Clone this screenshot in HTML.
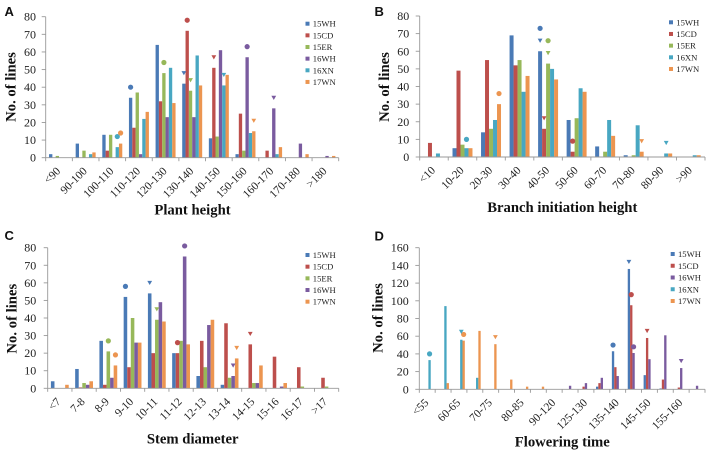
<!DOCTYPE html>
<html>
<head>
<meta charset="utf-8">
<title>Trait distributions</title>
<style>
html,body{margin:0;padding:0;background:#fff;}
#figure{display:block;width:708px;height:452px;font-family:"Liberation Serif",serif;filter:blur(0.35px);}
.panel-letter{font-family:"Liberation Sans",sans-serif;font-weight:bold;font-size:13px;fill:#111;}
.ytick{font-size:12px;fill:#222;text-anchor:end;}
.xtick{font-size:11.4px;fill:#222;text-anchor:end;}
.axis-title{font-size:14.7px;font-weight:bold;fill:#111;text-anchor:middle;}
.legend-text{font-size:8.6px;fill:#222;}
</style>
</head>
<body>
<svg id="figure" xmlns="http://www.w3.org/2000/svg" width="708" height="452" viewBox="0 0 708 452"></svg>
<script>
// ---------- Colours ----------
const seriesColors = {'15WH':'#4a7ab6','15CD':'#bd4f4c','15ER':'#97b85a','16WH':'#7a5b9f','16XN':'#48a7c2','17WN':'#ec9550'};

// ---------- Panel A ----------
const categoriesA = ['<90','90-100','100-110','110-120','120-130','130-140','140-150','150-160','160-170','170-180','>180'];
const ticksA = [0,10,20,30,40,50,60,70,80];
const a15WH = [2,8,13,34,64,42,11,2,0,0,0];
const a15CD = [0,0,4,17,32,72,51,25,4,0,0];
const a15ER = [1,4,13,37,48,38,12,4,0,0,0];
const a16WH = [0,0,0,2,23,23,61,57,28,8,1];
const a16XN = [0,2,6,22,51,58,41,14,2,0,0];
const a17WN = [0,3,8,26,31,41,47,15,6,2,1];
const circlesA = [['16XN','100-110',12],['17WN','100-110',14],['15WH','110-120',40],['15ER','120-130',54],['15CD','130-140',78],['16WH','150-160',63]];
const trianglesA = [['15WH','130-140',48],['15ER','130-140',44],['15CD','140-150',57],['16XN','140-150',47],['17WN','150-160',21],['16WH','160-170',34]];

// ---------- Panel B ----------
const categoriesB = ['<10','10-20','20-30','30-40','40-50','50-60','60-70','70-80','80-90','>90'];
const ticksB = [0,10,20,30,40,50,60,70,80];
const b15WH = [0,5,14,69,60,21,6,1,0,0];
const b15CD = [8,49,55,52,16,3,0,0,0,0];
const b15ER = [0,7,16,55,53,22,3,1,0,0];
const b16XN = [2,5,21,37,50,39,21,18,2,1];
const b17WN = [0,5,30,46,44,37,12,3,2,1];
const circlesB = [['16XN','10-20',10],['17WN','20-30',36],['15WH','40-50',73],['15ER','40-50',66],['15CD','50-60',9]];
const trianglesB = [['15WH','40-50',66],['15ER','40-50',59],['15CD','40-50',22],['17WN','70-80',9],['16XN','80-90',8]];

// ---------- Panel C ----------
const categoriesC = ['<7','7-8','8-9','9-10','10-11','11-12','12-13','13-14','14-15','15-16','16-17','>17'];
const ticksC = [0,10,20,30,40,50,60,70,80];
const c15WH = [4,11,27,52,54,20,7,2,0,0,0,0];
const c15CD = [0,0.5,2,12,20,20,27,37,25,18,12,6];
const c15ER = [0,3,21,40,39,27,12,6,3,0,1,1];
const c16WH = [0,2,6,26,49,75,36,7,3,1,0,0];
const c17WN = [2,4,13,26,38,25,39,17,13,3,0,0];
const circlesC = [['15ER','8-9',27],['17WN','8-9',19],['15WH','9-10',58],['15CD','11-12',26],['16WH','11-12',81]];
const trianglesC = [['15WH','10-11',60],['15ER','10-11',45],['16WH','13-14',13],['17WN','13-14',23],['15CD','14-15',31]];

// ---------- Panel D ----------
const categoriesD = ['<55','55-60','60-65','65-70','70-75','75-80','80-85','85-90','90-120','120-125','125-130','130-135','135-140','140-145','145-150','150-155','155-160','>160'];
const ticksD = [0,20,40,60,80,100,120,140,160];
const d15WH = [0,0,0,0,0,0,0,0,0,0,0,3,43,136,16,1,0,0];
const d15CD = [0,0,0,0,0,0,0,0,0,0,3,7,25,95,58,11,2,0];
const d16WH = [0,0,0,0,0,0,0,0,0,4,7,13,15,41,34,61,24,4];
const d16XN = [33,94,56,13,0,0,0,0,0,0,0,0,0,0,0,0,0,0];
const d17WN = [0,7,55,66,51,11,3,3,0,0,0,0,0,0,0,0,0,0];
const circlesD = [['16XN','<55',40],['17WN','60-65',62],['15WH','135-140',50],['15CD','140-145',107],['16WH','140-145',48]];
const trianglesD = [['16XN','60-65',65],['17WN','70-75',59],['15WH','140-145',144],['15CD','145-150',66],['16WH','155-160',32]];

// ---------- Drawing ----------
const svg = document.getElementById('figure');
const NS = 'http://www.w3.org/2000/svg';
const slug = s => s.replace('<','under-').replace('>','over-').toLowerCase();

function node(tag, attrs, text) {
  const el = document.createElementNS(NS, tag);
  for (const k in attrs) el.setAttribute(k, attrs[k]);
  if (text !== undefined) el.textContent = text;
  return el;
}

function drawPanel(p) {
  const g = node('g', {});
  
  
  svg.appendChild(g);

  const n = p.categories.length;
  const step = (p.x1 - p.x0) / n;
  const names = Object.keys(p.series);
  const bw = step * p.barFrac;
  const margin = (step - bw * names.length) / 2;
  const yPos = v => p.y0 - (v / p.yMax) * (p.y0 - p.y1);
  const xBar = (c, s) => p.x0 + c * step + margin + s * bw;

  // letter
  const letter = node('text', {x: p.letterX, y: p.letterY, class: 'panel-letter'}, p.id);
  
  
  g.appendChild(letter);

  // bars
  names.forEach((name, s) => {
    const vals = p.series[name];
    vals.forEach((v, c) => {
      if (v <= 0) return;
      const r = node('rect', {x: xBar(c, s).toFixed(2), y: yPos(v).toFixed(2), width: bw.toFixed(2), height: (p.y0 - yPos(v)).toFixed(2), fill: seriesColors[name]});
      
      
      g.appendChild(r);
    });
  });

  // axes
  const yAxis = node('line', {x1: p.x0, x2: p.x0, y1: p.y1, y2: p.y0, stroke: '#999', 'stroke-width': 0.9});
  
  
  g.appendChild(yAxis);
  const xAxis = node('line', {x1: p.x0, x2: p.x1, y1: p.y0, y2: p.y0, stroke: '#999', 'stroke-width': 0.9});
  
  
  g.appendChild(xAxis);

  p.ticks.forEach(t => {
    const y = yPos(t);
    g.appendChild(node('line', {x1: p.x0 - 4, x2: p.x0, y1: y, y2: y, stroke: '#999', 'stroke-width': 0.9}));
    const lab = node('text', {x: p.x0 - p.yLabelGap, y: y + 4, class: 'ytick'}, t);
    
    
    g.appendChild(lab);
  });

  for (let c = 0; c <= n; c++) {
    const x = p.x0 + c * step;
    g.appendChild(node('line', {x1: x, x2: x, y1: p.y0, y2: p.y0 + 3.5, stroke: '#999', 'stroke-width': 0.9}));
  }
  p.categories.forEach((cat, c) => {
    if (c % p.labelEvery !== 0) return;
    const cx = p.x0 + (c + 0.5) * step + p.xLabelDx;
    const cy = p.y0 + p.xLabelDy;
    const lab = node('text', {class: 'xtick', transform: 'translate(' + cx.toFixed(2) + ',' + cy.toFixed(2) + ') rotate(-45)'}, cat);
    
    
    g.appendChild(lab);
  });

  // markers
  const markerX = (name, cat) => xBar(p.categories.indexOf(cat), names.indexOf(name)) + bw / 2;
  p.circles.forEach(m => {
    const c = node('circle', {cx: markerX(m[0], m[1]).toFixed(2), cy: yPos(m[2]).toFixed(2), r: 2.6, fill: seriesColors[m[0]]});
    
    
    g.appendChild(c);
  });
  p.triangles.forEach(m => {
    const x = markerX(m[0], m[1]);
    const y = yPos(m[2]);
    const pts = [[x - 2.4, y - 2], [x + 2.4, y - 2], [x, y + 2.2]].map(q => q[0].toFixed(2) + ',' + q[1].toFixed(2)).join(' ');
    const t = node('polygon', {points: pts, fill: seriesColors[m[0]]});
    
    
    g.appendChild(t);
  });

  // titles
  const xt = node('text', {x: p.titleX, y: p.titleY, class: 'axis-title'}, p.title);
  
  
  g.appendChild(xt);
  const yt = node('text', {class: 'axis-title', transform: 'translate(' + p.yTitleX + ',' + p.yTitleY + ') rotate(-90)'}, 'No. of lines');
  
  
  g.appendChild(yt);

  // legend
  names.forEach((name, s) => {
    const y = p.legendY + s * p.legendStep;
    const sq = node('rect', {x: p.legendX, y: y - 2, width: 4, height: 4, fill: seriesColors[name]});
    
    
    g.appendChild(sq);
    const tx = node('text', {x: p.legendX + 7.3, y: y + 3, class: 'legend-text'}, name);
    
    
    g.appendChild(tx);
  });
}

drawPanel({id:'A', categories:categoriesA, ticks:ticksA, yMax:80, labelEvery:1,
  series:{'15WH':a15WH,'15CD':a15CD,'15ER':a15ER,'16WH':a16WH,'16XN':a16XN,'17WN':a17WN},
  circles:circlesA, triangles:trianglesA, x0:45.7, x1:338.7, y0:157.7, y1:16.7, barFrac:0.125, yLabelGap:9.7,
  xLabelDx:2, xLabelDy:14, letterX:4.5, letterY:16, title:'Plant height', titleX:192.5, titleY:214.5, yTitleX:15.5, yTitleY:87,
  legendX:305.5, legendY:23.7, legendStep:11.65});

drawPanel({id:'B', categories:categoriesB, ticks:ticksB, yMax:80, labelEvery:1,
  series:{'15WH':b15WH,'15CD':b15CD,'15ER':b15ER,'16XN':b16XN,'17WN':b17WN},
  circles:circlesB, triangles:trianglesB, x0:419.7, x1:705, y0:157, y1:16, barFrac:0.14, yLabelGap:10.5,
  xLabelDx:2, xLabelDy:14, letterX:374.5, letterY:16, title:'Branch initiation height', titleX:562.3, titleY:212, yTitleX:389, yTitleY:87,
  legendX:669, legendY:22.3, legendStep:11.67});

drawPanel({id:'C', categories:categoriesC, ticks:ticksC, yMax:80, labelEvery:1,
  series:{'15WH':c15WH,'15CD':c15CD,'15ER':c15ER,'16WH':c16WH,'17WN':c17WN},
  circles:circlesC, triangles:trianglesC, x0:47.7, x1:338.7, y0:388.3, y1:247.7, barFrac:0.147, yLabelGap:11.5,
  xLabelDx:1.5, xLabelDy:14, letterX:4.5, letterY:240, title:'Stem diameter', titleX:192.7, titleY:443.5, yTitleX:16.5, yTitleY:318.7,
  legendX:305.5, legendY:255, legendStep:11.67});

drawPanel({id:'D', categories:categoriesD, ticks:ticksD, yMax:160, labelEvery:2,
  series:{'15WH':d15WH,'15CD':d15CD,'16WH':d16WH,'16XN':d16XN,'17WN':d17WN},
  circles:circlesD, triangles:trianglesD, x0:419.3, x1:705, y0:389.3, y1:247.7, barFrac:0.147, yLabelGap:10.5,
  xLabelDx:2, xLabelDy:14, letterX:374.5, letterY:240.5, title:'Flowering time', titleX:562.3, titleY:446.5, yTitleX:382.5, yTitleY:318,
  legendX:670.7, legendY:254, legendStep:11.75});
</script>
</body>
</html>
